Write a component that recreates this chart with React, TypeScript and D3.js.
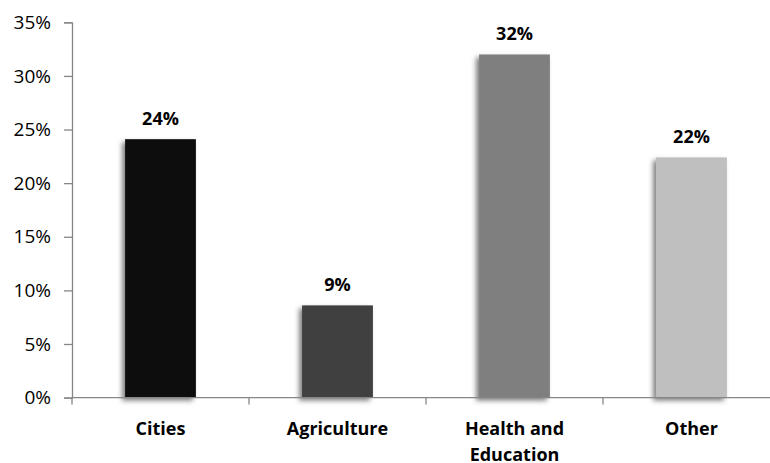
import React, { useEffect, useRef } from "react"
import * as d3 from "d3"

const categories = ["Cities", "Agriculture", "Health and Education", "Other"]
const categoryLines = [["Cities"], ["Agriculture"], ["Health and", "Education"], ["Other"]]
const shares = [0.241, 0.086, 0.32, 0.224]
const barColors = ["#0d0d0d", "#404040", "#7f7f7f", "#bfbfbf"]
const yTicks = [0, 0.05, 0.1, 0.15, 0.2, 0.25, 0.3, 0.35]

const W = 770
const H = 463
const FONT = "'Open Sans', sans-serif"

export default function App() {
  const ref = useRef<SVGSVGElement>(null)

  useEffect(() => {
    const svg = d3.select(ref.current)
    svg.selectAll("*").remove()

    const x = d3.scaleBand().domain(categories).range([72, 780]).paddingInner(0).paddingOuter(0)
    const y = d3.scaleLinear().domain([0, 0.35]).range([397.6, 22.3])
    const pct = d3.format(".0%")
    const barW = x.bandwidth() * 0.4

    const defs = svg.append("defs")
    defs
      .append("filter")
      .attr("id", "shadow")
      .attr("x", "-30%")
      .attr("y", "-10%")
      .attr("width", "160%")
      .attr("height", "130%")
      .append("feDropShadow")
      .attr("dx", -3)
      .attr("dy", 3)
      .attr("stdDeviation", 2.8)
      .attr("flood-color", "#000")
      .attr("flood-opacity", 0.5)

    // bars
    svg
      .append("g")
      .selectAll("rect")
      .data(shares)
      .enter()
      .append("rect")
      .attr("x", (d, i) => x(categories[i])! + (x.bandwidth() - barW) / 2)
      .attr("y", d => y(d))
      .attr("width", barW)
      .attr("height", d => y(0) - y(d))
      .attr("fill", (d, i) => barColors[i])
      .attr("filter", "url(#shadow)")

    // y axis
    const yAxis = svg.append("g").attr("transform", "translate(72,0)")
    yAxis
      .call(d3.axisLeft(y).tickValues(yTicks).tickSize(8).tickPadding(13).tickFormat(d => pct(d as number)))
    yAxis.select(".domain").attr("stroke", "#868686").attr("stroke-width", 1.3)
    yAxis.selectAll(".tick line").attr("stroke", "#868686").attr("stroke-width", 1.3)
    yAxis
      .selectAll(".tick text")
      .attr("font-family", FONT)
      .attr("font-size", 19)
      .attr("fill", "#000")

    // x axis
    const bottom = y(0)
    svg
      .append("line")
      .attr("x1", 72)
      .attr("x2", W)
      .attr("y1", bottom)
      .attr("y2", bottom)
      .attr("stroke", "#868686")
      .attr("stroke-width", 1.3)
    svg
      .append("g")
      .selectAll("line")
      .data(categories)
      .enter()
      .append("line")
      .attr("x1", d => x(d)!)
      .attr("x2", d => x(d)!)
      .attr("y1", bottom)
      .attr("y2", bottom + 7)
      .attr("stroke", "#868686")
      .attr("stroke-width", 1.3)

    // category labels
    const labels = svg
      .append("g")
      .selectAll("text")
      .data(categories)
      .enter()
      .append("text")
      .attr("x", d => x(d)! + x.bandwidth() / 2)
      .attr("y", 435)
      .attr("text-anchor", "middle")
      .attr("font-family", FONT)
      .attr("font-size", 18)
      .attr("font-weight", "bold")
      .attr("fill", "#000")
    labels.each(function (d, i) {
      const t = d3.select(this)
      categoryLines[i].forEach((line, j) => {
        t.append("tspan")
          .attr("x", x(d)! + x.bandwidth() / 2)
          .attr("dy", j === 0 ? 0 : 26)
          .text(line)
      })
    })

    // value labels
    svg
      .append("g")
      .selectAll("text")
      .data(shares)
      .enter()
      .append("text")
      .attr("x", (d, i) => x(categories[i])! + x.bandwidth() / 2)
      .attr("y", d => y(d) - 14.5)
      .attr("text-anchor", "middle")
      .attr("font-family", FONT)
      .attr("font-size", 18)
      .attr("font-weight", "bold")
      .attr("fill", "#000")
      .text(d => pct(d))
  }, [])

  return (
    <svg
      ref={ref}
      width={W}
      height={H}
      style={{ position: "absolute", left: 0, top: 0, background: "#fff" }}
    />
  )
}
